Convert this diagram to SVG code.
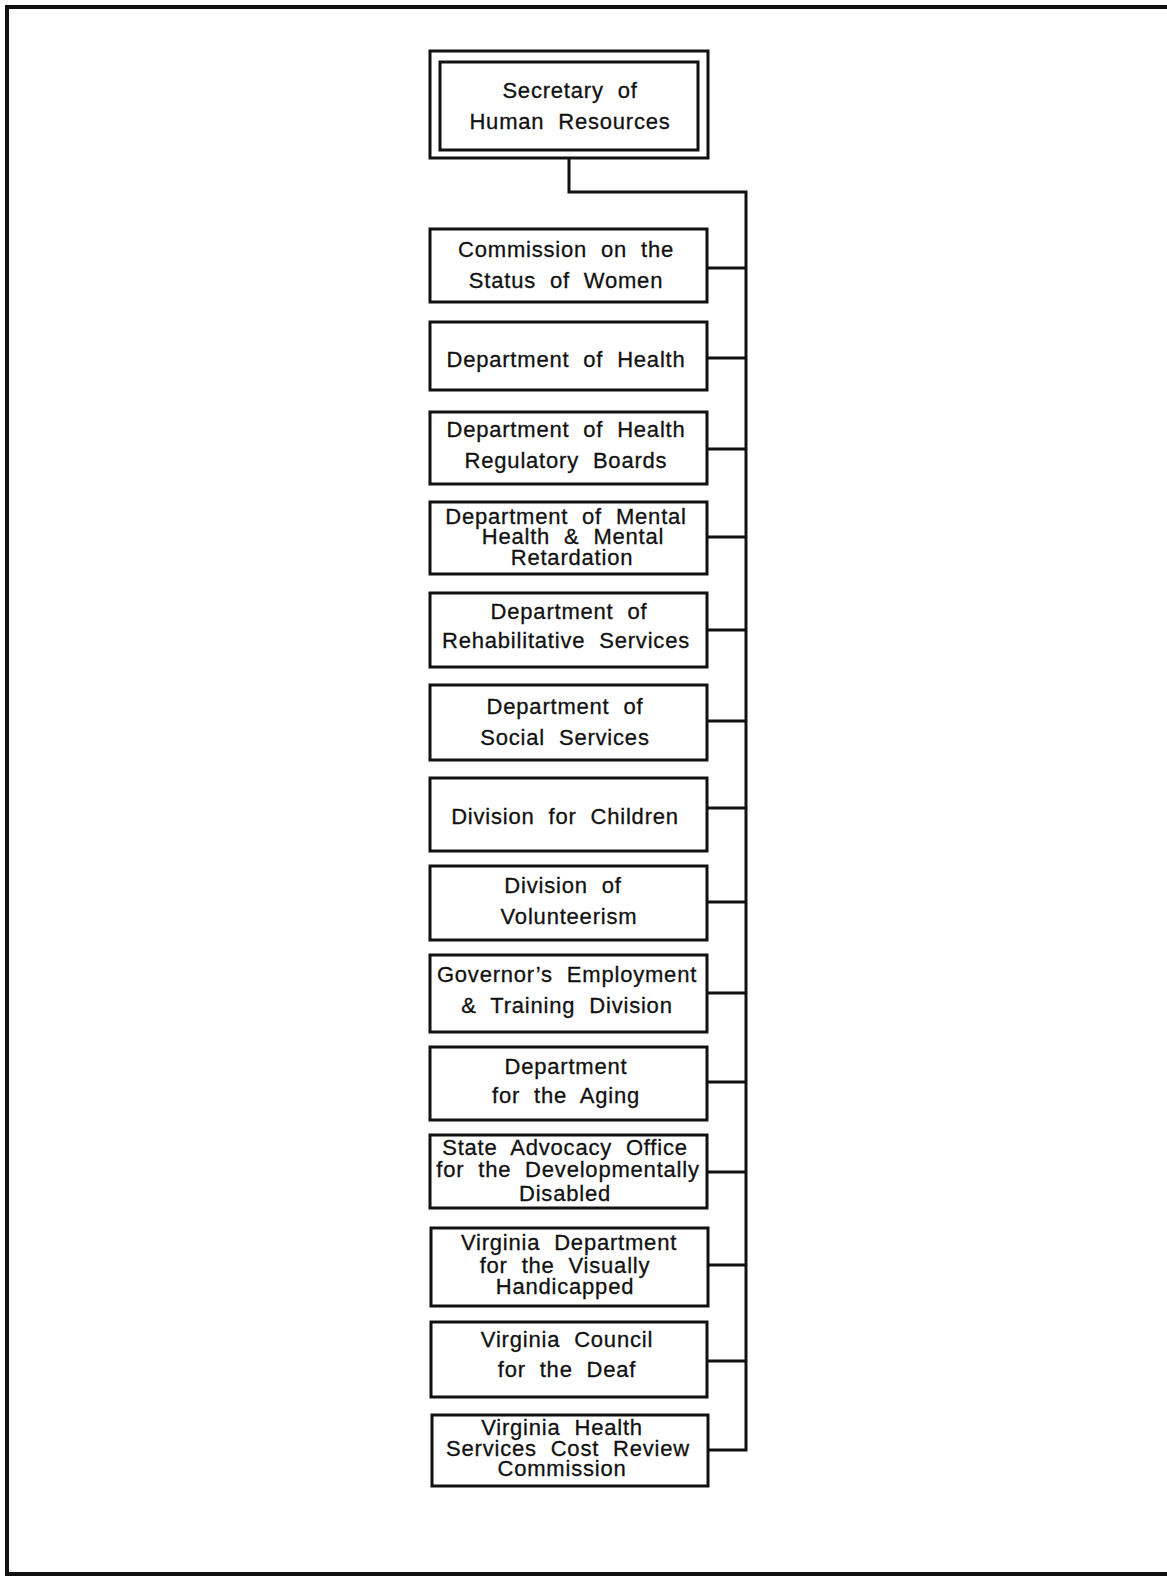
<svg xmlns="http://www.w3.org/2000/svg" width="1167" height="1579" viewBox="0 0 1167 1579">
<style>
.box{fill:#fff;stroke:#111;stroke-width:3}
.ln{fill:none;stroke:#111;stroke-width:3}
.frame{fill:none;stroke:#111;stroke-width:4}
text{font-family:"Liberation Sans",Arial,sans-serif;font-size:22px;fill:#111;stroke:#111;stroke-width:0.3;text-anchor:middle;word-spacing:7px;letter-spacing:0.8px}
</style>
<rect width="1167" height="1579" fill="#fff"/>
<path class="frame" d="M1167,7 H7 V1574 H1167"/>
<g id="connectors">
<path class="ln" d="M569,158 V192 H746 V1450 H707"/>
<path class="ln" d="M707,268 H746 M707,358 H746 M707,449 H746 M707,537 H746 M707,630 H746 M707,721 H746 M707,808 H746 M707,902 H746 M707,993 H746 M707,1082 H746 M707,1172 H746 M707,1265 H746 M707,1361 H746"/>
</g>
<g id="n0">
<rect class="box" x="430" y="51" width="278" height="107"/>
<rect class="box" x="440" y="62" width="258" height="88"/>
<text x="570" y="98">Secretary of</text>
<text x="570" y="129">Human Resources</text>
</g>
<g id="n1"><rect class="box" x="430" y="229" width="277" height="73"/><text x="566" y="257">Commission on the</text><text x="566" y="288">Status of Women</text></g>
<g id="n2"><rect class="box" x="430" y="322" width="277" height="68"/><text x="566" y="367">Department of Health</text></g>
<g id="n3"><rect class="box" x="430" y="412" width="277" height="72"/><text x="566" y="437">Department of Health</text><text x="566" y="468">Regulatory Boards</text></g>
<g id="n4"><rect class="box" x="430" y="502" width="277" height="72"/><text x="566" y="524">Department of Mental</text><text x="573" y="544">Health &amp; Mental</text><text x="572" y="565">Retardation</text></g>
<g id="n5"><rect class="box" x="430" y="593" width="277" height="74"/><text x="569" y="619">Department of</text><text x="566" y="648">Rehabilitative Services</text></g>
<g id="n6"><rect class="box" x="430" y="685" width="277" height="75"/><text x="565" y="714">Department of</text><text x="565" y="745">Social Services</text></g>
<g id="n7"><rect class="box" x="430" y="778" width="277" height="73"/><text x="565" y="824">Division for Children</text></g>
<g id="n8"><rect class="box" x="430" y="866" width="277" height="74"/><text x="563" y="893">Division of</text><text x="569" y="924">Volunteerism</text></g>
<g id="n9"><rect class="box" x="430" y="955" width="277" height="77"/><text x="567" y="982">Governor’s Employment</text><text x="567" y="1013">&amp; Training Division</text></g>
<g id="n10"><rect class="box" x="430" y="1047" width="277" height="73"/><text x="566" y="1074">Department</text><text x="566" y="1103">for the Aging</text></g>
<g id="n11"><rect class="box" x="430" y="1135" width="277" height="73"/><text x="565" y="1155">State Advocacy Office</text><text x="568" y="1177">for the Developmentally</text><text x="565" y="1201">Disabled</text></g>
<g id="n12"><rect class="box" x="431" y="1228" width="277" height="78"/><text x="569" y="1250">Virginia Department</text><text x="565" y="1273">for the Visually</text><text x="565" y="1294">Handicapped</text></g>
<g id="n13"><rect class="box" x="431" y="1322" width="276" height="75"/><text x="567" y="1347">Virginia Council</text><text x="567" y="1377">for the Deaf</text></g>
<g id="n14"><rect class="box" x="432" y="1415" width="276" height="71"/><text x="562" y="1435">Virginia Health</text><text x="568" y="1456">Services Cost Review</text><text x="562" y="1476">Commission</text></g>
</svg>
